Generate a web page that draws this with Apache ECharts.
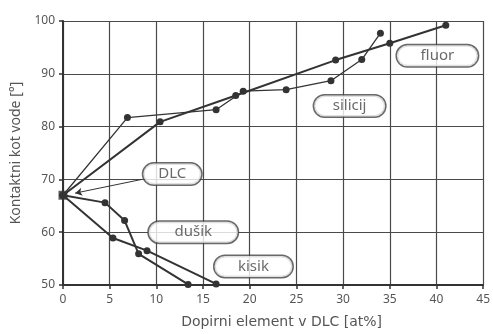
<!DOCTYPE html>
<html>
<head>
<meta charset="utf-8">
<script src="https://cdn.jsdelivr.net/npm/echarts@6/dist/echarts.min.js"></script>
<style>
html,body{margin:0;padding:0;background:#fff;}
#chart{width:493px;height:334px;}
</style>
</head>
<body>
<div id="chart"></div>
<script>
// Data (x: dopant at%, y: contact angle °)
const dlcX = [0];
const dlcY = [67.0];
const fluorX = [0, 10.4, 18.5, 29.2, 35.0, 41.0];
const fluorY = [67.0, 80.9, 85.9, 92.6, 95.8, 99.2];
const silicijX = [0, 6.9, 16.4, 19.3, 23.9, 28.7, 32.0, 34.0];
const silicijY = [67.0, 81.7, 83.2, 86.7, 87.0, 88.7, 92.7, 97.7];
const dusikX = [0, 4.5, 6.6, 8.1, 13.4];
const dusikY = [67.0, 65.6, 62.2, 55.9, 50.1];
const kisikX = [0, 5.35, 9.0, 16.4];
const kisikY = [67.0, 58.9, 56.5, 50.2];
const xTicks = [0, 5, 10, 15, 20, 25, 30, 35, 40, 45];
const yTicks = [50, 60, 70, 80, 90, 100];
// Annotation labels (name, center x, center y)
const labelNames = ['DLC', 'fluor', 'silicij', 'dušik', 'kisik'];
const labelX = [11.7, 40.1, 30.7, 13.95, 20.4];
const labelY = [71.0, 93.4, 83.9, 60.0, 53.5];
const labelW = [58, 81, 71, 89, 78];
const dlcArrowFrom = [8.45, 70.0];
const dlcArrowTo = [1.3, 67.4];

const zip = (xs, ys) => xs.map((x, i) => [x, ys[i]]);
const ink = '#333';
const txt = '#555';
const font = 'Noto Sans';

const chart = echarts.init(document.getElementById('chart'));
const lineSeries = (name, xs, ys, w) => ({
  name, type: 'line', data: zip(xs, ys), clip: false,
  symbol: 'circle', symbolSize: 7, showSymbol: true,
  lineStyle: { color: ink, width: w },
  itemStyle: { color: ink },
  z: 3, animation: false
});

chart.setOption({
  animation: false,
  grid: { left: 63, right: 9, top: 21, bottom: 47 },
  xAxis: {
    type: 'value', min: 0, max: 45, interval: 5,
    axisLine: { show: true, lineStyle: { color: ink, width: 2 } },
    axisTick: { show: true, length: 4, lineStyle: { color: ink, width: 1.5 } },
    axisLabel: { color: txt, fontFamily: font, fontSize: 12, margin: 9,
      formatter: v => xTicks.includes(v) ? String(v) : '' },
    splitLine: { show: true, lineStyle: { color: '#4a4a4a', width: 1.2 } },
    name: 'Dopirni element v DLC [at%]', nameLocation: 'middle', nameGap: 30,
    nameTextStyle: { color: txt, fontFamily: 'DejaVu Sans', fontSize: 14, padding: [0, 0, 0, 17] }
  },
  yAxis: {
    type: 'value', min: 50, max: 100, interval: 10,
    axisLine: { show: true, lineStyle: { color: ink, width: 2 } },
    axisTick: { show: true, length: 4, lineStyle: { color: ink, width: 1.5 } },
    axisLabel: { color: txt, fontFamily: font, fontSize: 12, margin: 8,
      formatter: v => yTicks.includes(v) ? String(v) : '' },
    splitLine: { show: true, lineStyle: { color: '#4a4a4a', width: 1.2 } },
    name: 'Kontaktni kot vode [°]', nameLocation: 'middle', nameGap: 37,
    nameTextStyle: { color: txt, fontFamily: font, fontSize: 14 }
  },
  series: [
    lineSeries('fluor', fluorX, fluorY, 2),
    lineSeries('silicij', silicijX, silicijY, 1.3),
    lineSeries('dušik', dusikX, dusikY, 2),
    lineSeries('kisik', kisikX, kisikY, 2),
    {
      name: 'DLC', type: 'scatter', data: zip(dlcX, dlcY), clip: false,
      symbol: 'rect', symbolSize: 9, itemStyle: { color: ink }, z: 5,
      markLine: {
        silent: true, symbol: ['none', 'arrow'], symbolSize: [6, 7],
        lineStyle: { color: ink, width: 1, type: 'solid' },
        label: { show: false },
        data: [[{ coord: dlcArrowFrom }, { coord: dlcArrowTo }]]
      }
    },
    {
      name: 'labels', type: 'scatter', symbolSize: 0, clip: false, z: 10,
      itemStyle: { color: 'transparent' },
      data: labelNames.map((n, i) => ({
        name: n, value: [labelX[i], labelY[i]],
        label: { width: labelW[i] }
      })),
      label: {
        show: true, position: 'inside', formatter: '{b}',
        color: '#444', fontFamily: font, fontSize: 15,
        backgroundColor: '#fff', borderColor: '#444', borderWidth: 1.5,
        borderRadius: 11, height: 21, lineHeight: 21, align: 'center',
        verticalAlign: 'middle', padding: 0
      }
    }
  ]
});
</script>
</body>
</html>
